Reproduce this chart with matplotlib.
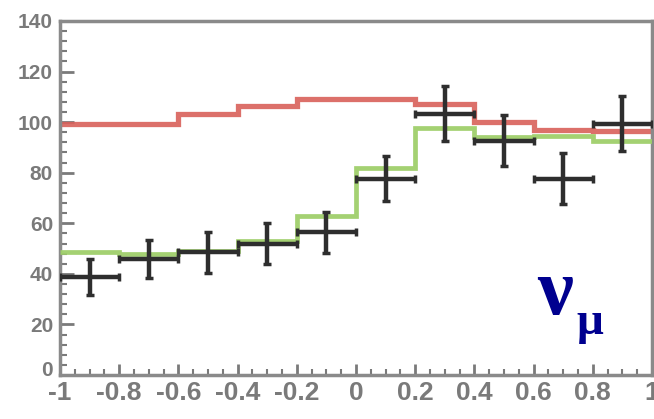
import matplotlib
matplotlib.use("Agg")
import matplotlib.pyplot as plt
import matplotlib.transforms as mtransforms
from matplotlib.ticker import MultipleLocator
import numpy as np

# bin edges of cos(theta)
bin_edges = [-1.0, -0.8, -0.6, -0.4, -0.2, 0.0, 0.2, 0.4, 0.6, 0.8, 1.0]
# no-oscillation prediction (red)
pred_no_osc = [99.4, 99.4, 103.4, 106.5, 109, 109, 107, 100, 97, 96.6]
# oscillation best fit (green)
pred_osc = [48.5, 48, 49, 53, 63, 82, 97.8, 94, 94.7, 92.7]
# data points
data_vals = [38.7, 46, 48.5, 52, 56.4, 77.7, 103.4, 92.7, 77.7, 99.4]
data_errs = [7, 7.5, 8, 8, 8, 9, 11, 10, 10, 11]

x_ticks = [-1, -0.8, -0.6, -0.4, -0.2, 0, 0.2, 0.4, 0.6, 0.8, 1]
x_tick_labels = ["-1", "-0.8", "-0.6", "-0.4", "-0.2", "0", "0.2", "0.4", "0.6", "0.8", "1"]
y_ticks = [0, 20, 40, 60, 80, 100, 120, 140]

fig = plt.figure(figsize=(6.54, 4.19), dpi=100)
ax = fig.add_axes([60/654, 1-375/419, (652-60)/654, (375-21)/419])

edges = np.array(bin_edges)
centers = 0.5 * (edges[:-1] + edges[1:])
halfw = 0.5 * np.diff(edges)

ax.stairs(pred_no_osc, edges, baseline=None, color="#d9605a", lw=3.8, alpha=0.9, zorder=2)
ax.stairs(pred_osc, edges, baseline=None, color="#9fcf6a", lw=3.4, alpha=0.95, zorder=3)
ax.errorbar(centers, data_vals, xerr=halfw, yerr=data_errs, fmt="none",
            ecolor="#2e2e2e", elinewidth=3.2, capsize=3, capthick=2.5, zorder=4)

ax.set_xlim(-1, 1)
ax.set_ylim(0, 140)
ax.set_xticks(x_ticks)
ax.set_xticklabels(x_tick_labels)
ax.set_yticks(y_ticks)
ax.xaxis.set_minor_locator(MultipleLocator(0.05))
ax.yaxis.set_minor_locator(MultipleLocator(4))

gray = "#7a7a7a"
for s in ax.spines.values():
    s.set_color("#8a8a8a")
    s.set_linewidth(2.5)
ax.tick_params(axis="both", which="both", direction="in", colors=gray,
               top=False, right=False)
ax.tick_params(axis="y", which="major", length=10, width=2, pad=5, labelsize=15)
ax.tick_params(axis="y", which="minor", length=5, width=1.5)
ax.tick_params(axis="x", which="major", length=8, width=2, pad=4, labelsize=19)
ax.tick_params(axis="x", which="minor", length=4, width=1.5)
for lab in ax.get_xticklabels() + ax.get_yticklabels():
    lab.set_fontfamily(["Liberation Sans Narrow", "Liberation Sans", "DejaVu Sans"])
    lab.set_fontweight("bold")
    lab.set_color(gray)

# nudge the "0" y label up slightly, as in the reference
fig.canvas.draw()
ylab0 = ax.get_yticklabels()[0]
ylab0.set_transform(ylab0.get_transform() + mtransforms.ScaledTranslation(0, 5/72, fig.dpi_scale_trans))

fig.text(555/654, 1-294/419, "ν", fontsize=58, fontweight="bold",
         fontfamily=["Liberation Serif", "DejaVu Serif"], color="#00008f",
         ha="center", va="center")
fig.text(590/654, 1-323/419, "μ", fontsize=34, fontweight="bold",
         fontfamily=["Liberation Serif", "DejaVu Serif"], color="#00008f",
         ha="center", va="center")

fig.savefig("out.png", dpi=100)
